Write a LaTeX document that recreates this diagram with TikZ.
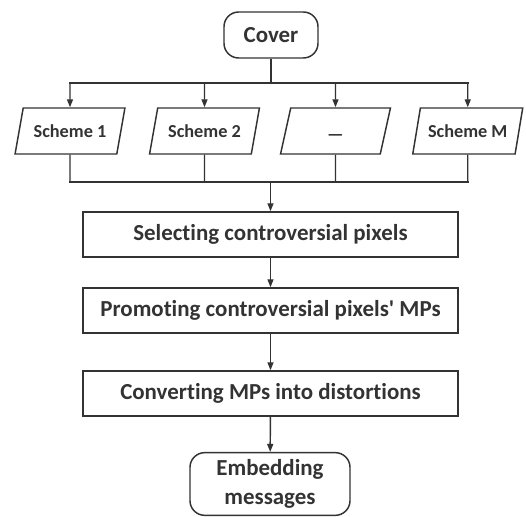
\documentclass[tikz,border=0pt]{standalone}
\usepackage{fontspec}
\setmainfont[Ligatures=NoCommon]{Carlito}
\usetikzlibrary{shapes.geometric,arrows.meta}
\definecolor{ink}{HTML}{333333}

\begin{document}
\begin{tikzpicture}[x=0.75pt, y=-0.75pt, line width=1.1pt, color=ink,
  font=\fontsize{17.2}{21.75}\selectfont\bfseries,
  term/.style={draw, rectangle, rounded corners=11pt, align=center},
  scheme/.style={draw, trapezium, trapezium left angle=72, trapezium right angle=108,
    trapezium stretches=true, minimum width=82.5pt, minimum height=34.5pt,
    font=\fontsize{13.7}{16}\selectfont\bfseries},
  proc/.style={draw, rectangle, minimum width=281pt, minimum height=33.75pt},
  arr/.style={-{Triangle[length=6pt,width=4.5pt]}}]
\useasboundingbox (0,0) rectangle (526,517);

\node[term, minimum width=70.5pt, minimum height=34.5pt] (cover) at (271,35) {Cover};

\node[scheme] (s1) at (70,131) {Scheme 1};
\node[scheme] (s2) at (204.5,131) {Scheme 2};
\node[scheme] (s3) at (335.5,131) {\raisebox{-7.5pt}[0pt][0pt]{—}};
\node[scheme] (s4) at (467.75,131) {Scheme M};

\node[proc] (sel) at (270.5,234.5) {Selecting controversial pixels};
\node[proc] (prom) at (270.5,310.5) {Promoting controversial pixels\textquotesingle\ MPs};
\node[proc] (conv) at (270.5,393.5) {Converting MPs into distortions};
\node[term, minimum width=120pt, minimum height=47pt] (emb) at (270,484) {Embedding\\messages};

% fan out
\coordinate (ta) at (69,83);
\coordinate (tb) at (469,83);
\draw (cover) -- (cover |- ta);
\draw (ta) -- (tb);
\foreach \s in {s1,s2,s3,s4}
  \draw[arr] (\s |- ta) -- (\s.north);

% fan in
\coordinate (ba) at (69,182);
\coordinate (bb) at (469,182);
\foreach \s in {s1,s2,s3,s4}
  \draw (\s.south) -- (\s |- ba);
\draw (ba) -- (bb);
\draw[arr] (sel |- ba) -- (sel);

\draw[arr] (sel) -- (prom);
\draw[arr] (prom) -- (conv);
\draw[arr] (conv) -- (emb);
\end{tikzpicture}
\end{document}
